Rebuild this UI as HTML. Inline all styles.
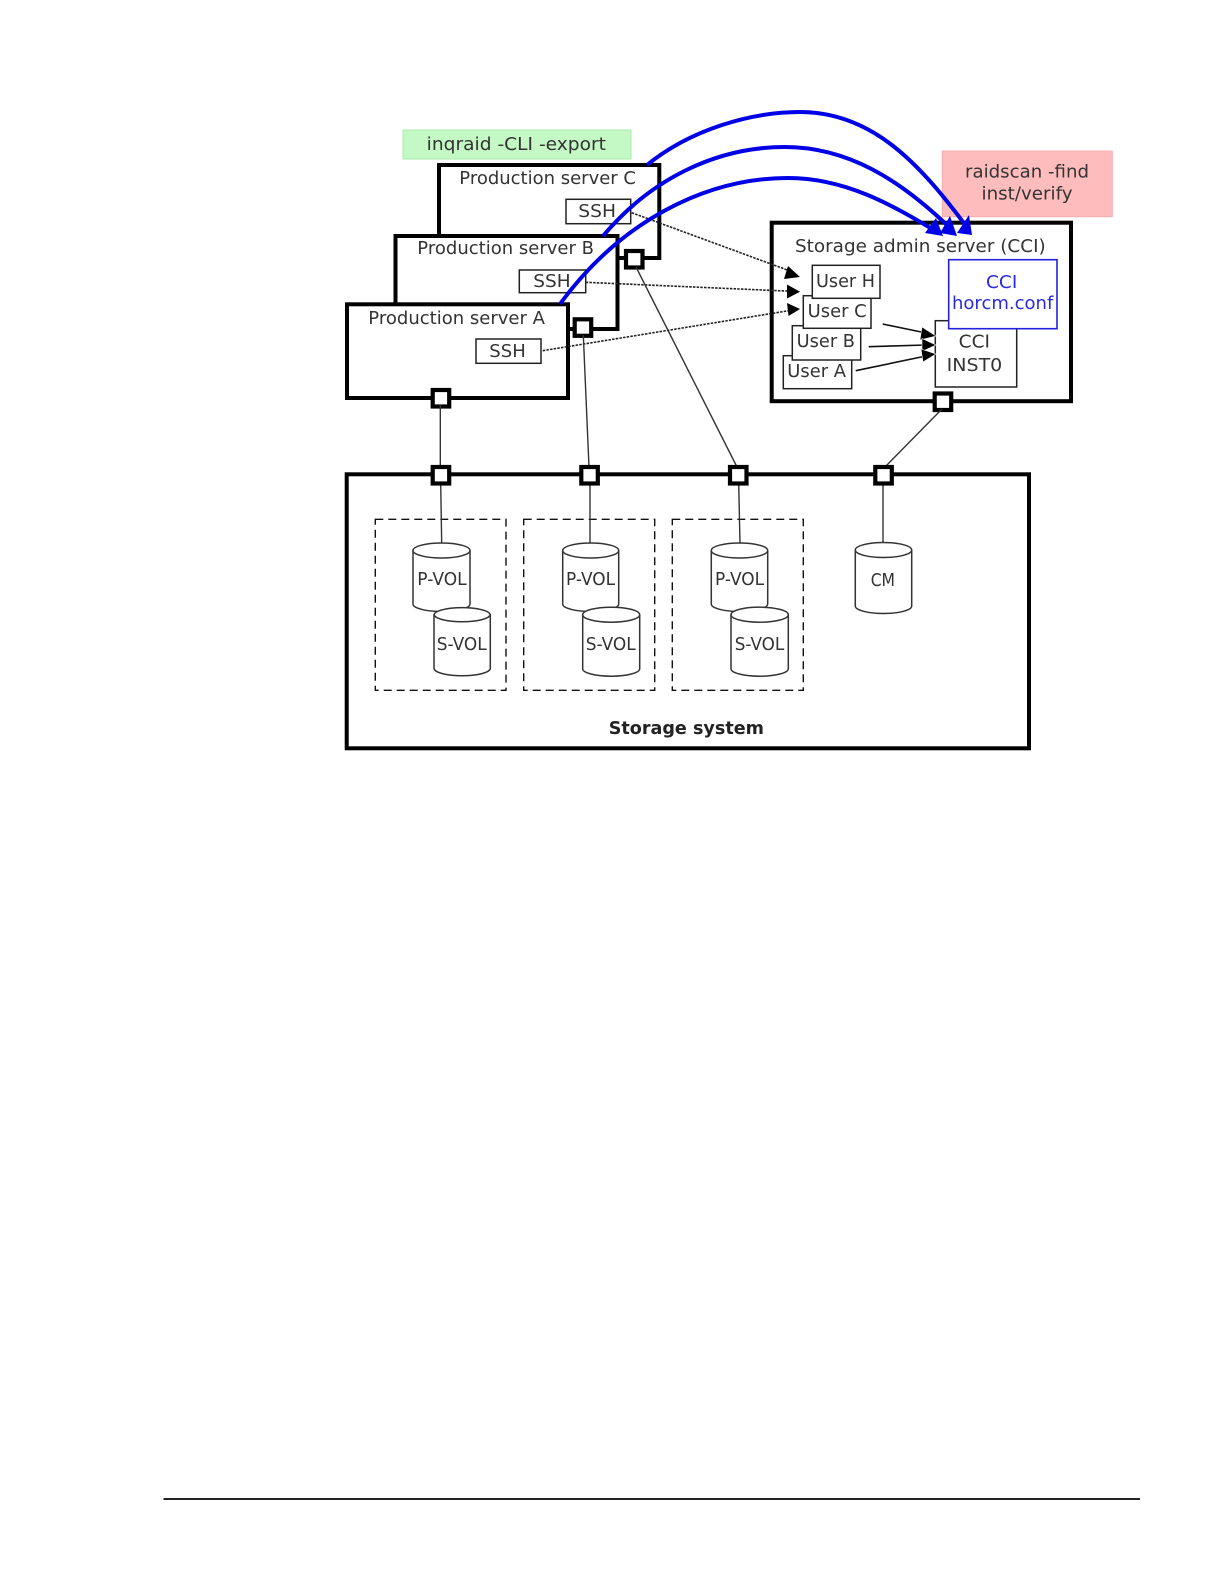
<!DOCTYPE html>
<html><head><meta charset="utf-8"><style>
html,body{margin:0;padding:0;background:#fff;width:1224px;height:1584px;overflow:hidden}
svg{display:block}
text{font-family:"DejaVu Sans","Liberation Sans",sans-serif;font-size:17.6px;fill:#333}
.thick{fill:#fff;stroke:#000;stroke-width:4}
.box{fill:#fff;stroke:#222;stroke-width:1.5}
.port{fill:#fff;stroke:#000;stroke-width:4.2}
.dot{fill:none;stroke:#222;stroke-width:1.6;stroke-dasharray:2.5 1.2}
.ln{fill:none;stroke:#333;stroke-width:1.4}
.blue{fill:none;stroke:#0000e6;stroke-width:4}
.dash{fill:none;stroke:#111;stroke-width:1.4;stroke-dasharray:8 5}
.cyl{fill:#fff;stroke:#333;stroke-width:1.5}
</style></head><body>
<svg width="1224" height="1584" viewBox="0 0 1224 1584" xmlns="http://www.w3.org/2000/svg">
<rect x="403" y="130" width="228" height="29" fill="#c4f8c4" stroke="#a9eca9"/>
<text x="426.7" y="150" textLength="179.3" lengthAdjust="spacingAndGlyphs">inqraid -CLI -export</text>
<rect x="942.3" y="151" width="170" height="65.7" fill="#ffbcbc" stroke="#f5aeae"/>
<text x="965" y="177.5" textLength="124" lengthAdjust="spacingAndGlyphs">raidscan -find</text>
<text x="981.5" y="199.5" textLength="91" lengthAdjust="spacingAndGlyphs">inst/verify</text>

<rect class="thick" x="439" y="165" width="220.3" height="93"/>
<text x="459.3" y="184" textLength="176.7" lengthAdjust="spacingAndGlyphs">Production server C</text>
<rect class="box" x="566" y="199.3" width="64.7" height="24.4"/>
<text x="578.3" y="217" textLength="37.7" lengthAdjust="spacingAndGlyphs">SSH</text>
<rect class="port" x="626" y="251" width="16.5" height="16.5"/>

<rect class="thick" x="395.5" y="236" width="222" height="93"/>
<text x="417.3" y="254" textLength="176.7" lengthAdjust="spacingAndGlyphs">Production server B</text>
<rect class="box" x="519.3" y="270" width="66.4" height="22.7"/>
<text x="533.3" y="287" textLength="37.4" lengthAdjust="spacingAndGlyphs">SSH</text>
<rect class="port" x="574.7" y="319.3" width="16.5" height="16.5"/>

<rect class="thick" x="347" y="304.3" width="221" height="93.7"/>
<text x="368.3" y="324" textLength="176.7" lengthAdjust="spacingAndGlyphs">Production server A</text>
<rect class="box" x="476" y="339" width="65" height="24.3"/>
<text x="489.3" y="357" textLength="36.5" lengthAdjust="spacingAndGlyphs">SSH</text>
<rect class="port" x="432.7" y="390" width="16.5" height="16.5"/>

<rect class="thick" x="771.7" y="222.7" width="299.3" height="178.5"/>
<text x="795" y="252" textLength="250.7" lengthAdjust="spacingAndGlyphs">Storage admin server (CCI)</text>
<rect class="box" x="783.3" y="355.7" width="68.4" height="33"/>
<text x="787.3" y="377" textLength="58.7" lengthAdjust="spacingAndGlyphs">User A</text>
<rect class="box" x="792.3" y="325.7" width="68.4" height="34.3"/>
<text x="796.7" y="347" textLength="58.3" lengthAdjust="spacingAndGlyphs">User B</text>
<rect class="box" x="803.3" y="295.7" width="67.7" height="32.6"/>
<text x="807.7" y="317" textLength="59" lengthAdjust="spacingAndGlyphs">User C</text>
<rect class="box" x="812.3" y="265.3" width="67.7" height="33"/>
<text x="816" y="287" textLength="59" lengthAdjust="spacingAndGlyphs">User H</text>
<rect class="box" x="935.3" y="320.7" width="81.4" height="66.3"/>
<text x="958.7" y="347.5" textLength="31.3" lengthAdjust="spacingAndGlyphs">CCI</text>
<text x="946.7" y="371" textLength="55.6" lengthAdjust="spacingAndGlyphs">INST0</text>
<rect x="948.7" y="259.7" width="108.3" height="69" fill="#fff" stroke="#2222dd" stroke-width="1.6"/>
<text x="986" y="288" textLength="31.3" lengthAdjust="spacingAndGlyphs" style="fill:#2a2ae0">CCI</text>
<text x="952" y="309" textLength="101.3" lengthAdjust="spacingAndGlyphs" style="fill:#2a2ae0">horcm.conf</text>
<rect class="port" x="934.7" y="393.5" width="16.5" height="16.5"/>

<!-- dotted connectors -->
<path class="dot" d="M631.7 212.7L790 271"/>
<path class="dot" d="M585.7 282.3L790 291.2"/>
<path class="dot" d="M542.7 350.7L790 310.5"/>
<polygon points="800,277 788,266 784,279" fill="#000"/>
<polygon points="800,291.7 787,284.5 787,298.5" fill="#000"/>
<polygon points="800,309 787,303 788.5,316" fill="#000"/>

<!-- solid arrows -->
<path class="ln" style="stroke:#111;stroke-width:1.6" d="M882.7 324L926 333"/>
<path class="ln" style="stroke:#111;stroke-width:1.6" d="M868.7 346.7L926 345"/>
<path class="ln" style="stroke:#111;stroke-width:1.6" d="M855.7 370.7L926 356"/>
<polygon points="936,336 922,327 920,340" fill="#000" stroke="#fff" stroke-width=".6"/>
<polygon points="936,345 922,338.5 922,351.5" fill="#000" stroke="#fff" stroke-width=".6"/>
<polygon points="936,354 921,349 923,362" fill="#000" stroke="#fff" stroke-width=".6"/>

<!-- storage -->
<rect class="thick" x="346.7" y="474.3" width="682.3" height="274"/>
<rect class="dash" x="375.3" y="519.3" width="130.7" height="171"/>
<rect class="dash" x="523.7" y="519.3" width="131" height="171"/>
<rect class="dash" x="672.3" y="519.3" width="131" height="171"/>
<text x="608.7" y="734" textLength="155.3" lengthAdjust="spacingAndGlyphs" style="font-weight:bold;fill:#222">Storage system</text>

<!-- vertical links -->
<path class="ln" d="M440.3 405L440.3 467"/>
<path class="ln" d="M583.3 335L589 467"/>
<path class="ln" d="M636 267L737 467"/>
<path class="ln" d="M942 409L885 467"/>
<path class="ln" d="M440.7 483L441.7 544"/>
<path class="ln" d="M590 483L590 544"/>
<path class="ln" d="M738.7 483L740 544"/>
<path class="ln" d="M883 483L883 544"/>

<!-- cylinders -->
<path class="cyl" d="M413 550.5A28.5 7.5 0 0 1 470 550.5V604A28.5 7.5 0 0 1 413 604Z"/><path class="cyl" style="fill:none" d="M413 550.5A28.5 7.5 0 0 0 470 550.5"/>
<text x="417.3" y="585" textLength="49.4" lengthAdjust="spacingAndGlyphs">P-VOL</text>
<path class="cyl" d="M434 614.7A28.2 7.5 0 0 1 490.3 614.7V668.7A28.2 7.5 0 0 1 434 668.7Z"/><path class="cyl" style="fill:none" d="M434 614.7A28.2 7.5 0 0 0 490.3 614.7"/>
<text x="436.7" y="650" textLength="50" lengthAdjust="spacingAndGlyphs">S-VOL</text>

<path class="cyl" d="M562.7 550.5A28 7.5 0 0 1 618.7 550.5V604A28 7.5 0 0 1 562.7 604Z"/><path class="cyl" style="fill:none" d="M562.7 550.5A28 7.5 0 0 0 618.7 550.5"/>
<text x="566" y="585" textLength="49" lengthAdjust="spacingAndGlyphs">P-VOL</text>
<path class="cyl" d="M582.7 614.7A28.5 7.5 0 0 1 639.7 614.7V668.7A28.5 7.5 0 0 1 582.7 668.7Z"/><path class="cyl" style="fill:none" d="M582.7 614.7A28.5 7.5 0 0 0 639.7 614.7"/>
<text x="585.7" y="650" textLength="50" lengthAdjust="spacingAndGlyphs">S-VOL</text>

<path class="cyl" d="M711.3 550.5A28.2 7.5 0 0 1 767.7 550.5V604A28.2 7.5 0 0 1 711.3 604Z"/><path class="cyl" style="fill:none" d="M711.3 550.5A28.2 7.5 0 0 0 767.7 550.5"/>
<text x="715" y="585" textLength="49" lengthAdjust="spacingAndGlyphs">P-VOL</text>
<path class="cyl" d="M731 614.7A28.6 7.5 0 0 1 788.3 614.7V668.7A28.6 7.5 0 0 1 731 668.7Z"/><path class="cyl" style="fill:none" d="M731 614.7A28.6 7.5 0 0 0 788.3 614.7"/>
<text x="734.7" y="650" textLength="49.6" lengthAdjust="spacingAndGlyphs">S-VOL</text>

<path class="cyl" d="M855.3 550A28.2 7.5 0 0 1 911.7 550V606A28.2 7.5 0 0 1 855.3 606Z"/><path class="cyl" style="fill:none" d="M855.3 550A28.2 7.5 0 0 0 911.7 550"/>
<text x="870.7" y="586" textLength="24.3" lengthAdjust="spacingAndGlyphs">CM</text>

<!-- storage ports -->
<rect class="port" x="432.7" y="467" width="16.5" height="16.5"/>
<rect class="port" x="581.3" y="467" width="16.5" height="16.5"/>
<rect class="port" x="730" y="467" width="16.5" height="16.5"/>
<rect class="port" x="875.3" y="467" width="16.5" height="16.5"/>

<!-- blue arcs -->
<path class="blue" d="M560 304C620 222 705 178 788 178C845 178 892 205 932 229"/>
<path class="blue" d="M603 236C650 180 715 147 785 147C848 147 900 180 949 227"/>
<path class="blue" d="M647 165C690 130 750 112 800 112C870 112 917 160 966 226"/>
<polygon points="943,236 925,233 936,218" fill="#0000e6"/>
<polygon points="957,236 940,233 950,216" fill="#0000e6"/>
<polygon points="972,235 957,233 969,215" fill="#0000e6"/>

<rect x="163.5" y="1498" width="976.5" height="2" fill="#222"/>
</svg>
</body></html>
